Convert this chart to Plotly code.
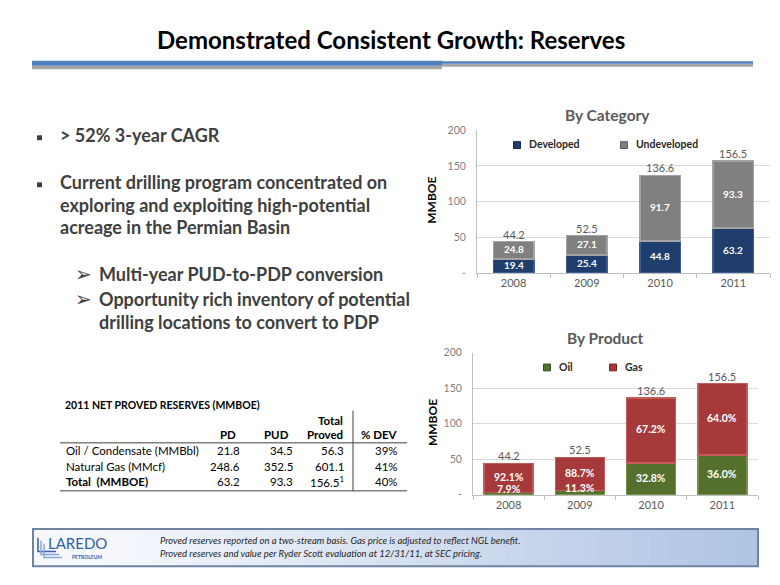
import plotly.graph_objects as go

W, H = 780, 585

# ---------------- data ----------------
years = ["2008", "2009", "2010", "2011"]
developed = [19.4, 25.4, 44.8, 63.2]
undeveloped = [24.8, 27.1, 91.7, 93.3]
category_totals = [44.2, 52.5, 136.6, 156.5]

oil_mmboe = [3.5, 5.9, 44.8, 56.3]
gas_mmboe = [40.7, 46.6, 91.8, 100.2]
oil_pct = ["7.9%", "11.3%", "32.8%", "36.0%"]
gas_pct = ["92.1%", "88.7%", "67.2%", "64.0%"]
product_totals = [44.2, 52.5, 136.6, 156.5]

y_tickvals = [0, 50, 100, 150, 200]
y_ticktext = ["-", "50", "100", "150", "200"]

table_title = "2011 NET PROVED RESERVES (MMBOE)"
table_rows = ["Oil / Condensate (MMBbl)", "Natural Gas (MMcf)", "<b>Total  (MMBOE)</b>"]
table_pd = ["21.8", "248.6", "63.2"]
table_pud = ["34.5", "352.5", "93.3"]
table_total = ["56.3", "601.1", "156.5<sup>1</sup>"]
table_dev = ["39%", "41%", "40%"]

bullets = ["> 52% 3-year CAGR",
           "Current drilling program concentrated on",
           "exploring and exploiting high-potential",
           "acreage in the Permian Basin"]
sub_bullets = ["Multi-year PUD-to-PDP conversion",
               "Opportunity rich inventory of potential",
               "drilling locations to convert to PDP"]
footnotes = ["Proved reserves reported on a two-stream basis. Gas price is adjusted to reflect NGL benefit.",
             "Proved reserves and value per Ryder Scott evaluation at 12/31/11, at SEC pricing."]

# ---------------- style ----------------
FONT = "Lato"
C_DEV, C_DEV_LINE = "#1f3e6d", "#3a5d93"
C_UND, C_UND_LINE = "#808080", "#a3a3a3"
C_OIL, C_OIL_LINE = "#55702c", "#74904a"
C_GAS, C_GAS_LINE = "#a63a3a", "#c65a5a"
TXT = "#404040"


def px(x):
    return x / W


def py(y):
    return 1 - y / H


fig = go.Figure()

fig.add_bar(x=years, y=developed, name="Developed", width=0.55,
            marker=dict(color=C_DEV, line=dict(color=C_DEV_LINE, width=1.5)),
            xaxis="x", yaxis="y", showlegend=False)
fig.add_bar(x=years, y=undeveloped, name="Undeveloped", width=0.55,
            marker=dict(color=C_UND, line=dict(color=C_UND_LINE, width=1.5)),
            xaxis="x", yaxis="y", showlegend=False)
fig.add_bar(x=years, y=oil_mmboe, name="Oil", width=0.69,
            marker=dict(color=C_OIL, line=dict(color=C_OIL_LINE, width=1.5)),
            xaxis="x2", yaxis="y2", showlegend=False)
fig.add_bar(x=years, y=gas_mmboe, name="Gas", width=0.69,
            marker=dict(color=C_GAS, line=dict(color=C_GAS_LINE, width=1.5)),
            xaxis="x2", yaxis="y2", showlegend=False)

ann = []
shapes = []

# data labels (x given as category index)
for i, yr in enumerate(years):
    ann.append(dict(x=i, y=developed[i] / 2, xref="x", yref="y", text=f"<b>{developed[i]:.1f}</b>",
                    showarrow=False, yshift=1, font=dict(size=10, color="white", family=FONT)))
    ann.append(dict(x=i, y=developed[i] + undeveloped[i] / 2, xref="x", yref="y",
                    text=f"<b>{undeveloped[i]:.1f}</b>",
                    showarrow=False, yshift=1, font=dict(size=10, color="white", family=FONT)))
    ann.append(dict(x=i, y=category_totals[i], xref="x", yref="y", text=f"{category_totals[i]:.1f}",
                    yanchor="bottom", showarrow=False, yshift=-1,
                    font=dict(size=11, color="#595959", family=FONT)))
    ann.append(dict(x=i, y=oil_mmboe[i] / 2, xref="x2", yref="y2", text=f"<b>{oil_pct[i]}</b>",
                    showarrow=False, yshift=5 if oil_mmboe[i] < 10 else 1,
                    font=dict(size=10.5, color="white", family=FONT)))
    ann.append(dict(x=i, y=oil_mmboe[i] + gas_mmboe[i] / 2, xref="x2", yref="y2",
                    text=f"<b>{gas_pct[i]}</b>",
                    showarrow=False, yshift=1, font=dict(size=10.5, color="white", family=FONT)))
    ann.append(dict(x=i, y=product_totals[i], xref="x2", yref="y2", text=f"{product_totals[i]:.1f}",
                    yanchor="bottom", showarrow=False, yshift=-1,
                    font=dict(size=11, color="#595959", family=FONT)))


def text(x, y, s, size, color=TXT, anchor="left", **kw):
    lift = max(0.0, 0.35 * size - 3)   # compensate box-centre vs cap-centre
    ann.append(dict(x=px(x), y=py(y - lift), xref="paper", yref="paper", text=s, showarrow=False,
                    xanchor=anchor, yanchor="middle", font=dict(size=size, color=color, family=FONT), **kw))


def rect(x0, y0, x1, y1, fill, line=None, lw=0):
    shapes.append(dict(type="rect", xref="paper", yref="paper", x0=px(x0), x1=px(x1), y0=py(y0), y1=py(y1),
                       fillcolor=fill, line=dict(color=line or fill, width=lw), layer="above"))


def hline(x0, x1, y, color="#404040", w=1):
    shapes.append(dict(type="line", xref="paper", yref="paper", x0=px(x0), x1=px(x1), y0=py(y), y1=py(y),
                       line=dict(color=color, width=w), layer="above"))


def vline(x, y0, y1, color="#404040", w=1):
    shapes.append(dict(type="line", xref="paper", yref="paper", x0=px(x), x1=px(x), y0=py(y0), y1=py(y1),
                       line=dict(color=color, width=w), layer="above"))


# title
text(391, 40, "<b>Demonstrated Consistent Growth: Reserves</b>", 24, color="#000000", anchor="center")
rect(32, 61, 442, 64.5, "#a6a6a6")
rect(32, 56, 442, 61, "#4f81bd")
rect(442, 59, 753, 62, "#a6a6a6")
rect(442, 56.5, 753, 59, "#4f81bd")

# chart titles / axis titles
text(607, 114, "<b>By Category</b>", 15.5, color="#595959", anchor="center")
text(605, 341, "<b>By Product</b>", 15.5, color="#595959", anchor="center")
text(432, 200, "<b>MMBOE</b>", 12, color="#000000", anchor="center", textangle=-90)
text(432, 427, "<b>MMBOE</b>", 12, color="#000000", anchor="center", textangle=-90)

# legends
for cx, cy, col, lc, lab in [(517, 142, C_DEV, "#132a4d", "Developed"),
                             (624, 142, C_UND, "#5e5e5e", "Undeveloped"),
                             (547, 369, C_OIL, "#3b501d", "Oil"),
                             (613, 369, C_GAS, "#7a2626", "Gas")]:
    rect(cx - 3.5, cy - 3.5, cx + 3.5, cy + 3.5, col, lc, 1)
    text(cx + 10, cy, f"<b>{lab}</b>", 10.5, color="#262626")

# bullets
bullet_y = [135, 183, 206, 229]
for i, (s, yy) in enumerate(zip(bullets, bullet_y)):
    if i in (0, 1):
        rect(37, yy - 3, 42, yy + 2, "#404040")
    text(58, yy, f"<b>{s}</b>", 18)
sub_y = [277, 302, 326]
for i, (s, yy) in enumerate(zip(sub_bullets, sub_y)):
    if i in (0, 1):
        text(73, yy, "➢", 20, color="#404040")
    text(97, yy, f"<b>{s}</b>", 18)

# table
text(63, 408, f"<b>{table_title}</b>", 10.5, color="#000000")
text(345, 424, "<b>Total</b>", 11.5, color="#000000", anchor="right")
for lab, xc, anc in [("PD", 228, "center"), ("PUD", 276, "center"), ("Proved", 345, "right"),
                     ("% DEV", 400, "right")]:
    text(xc, 439, f"<b>{lab}</b>", 11.5, color="#000000", anchor=anc)
hline(60, 407, 446, "#404040", 1)
hline(60, 407, 495, "#404040", 1)
vline(353, 413, 495, "#404040", 1)
row_y = [455, 471, 486]
for i, yy in enumerate(row_y):
    text(64, yy, table_rows[i], 11.5, color="#000000")
    text(242, yy, table_pd[i], 11.5, color="#000000", anchor="right")
    text(295, yy, table_pud[i], 11.5, color="#000000", anchor="right")
    text(346, yy, table_total[i], 11.5, color="#000000", anchor="right")
    text(400, yy, table_dev[i], 11.5, color="#000000", anchor="right")

# footer box with gradient
x0f, x1f = 33, 758
n = 40
c0 = (246, 248, 252)
c1 = (176, 196, 228)
for k in range(n):
    t = k / (n - 1)
    t2 = max(0.0, (t - 0.1) / 0.9)
    col = tuple(int(c0[j] + (c1[j] - c0[j]) * t2) for j in range(3))
    xa = x0f + (x1f - x0f) * k / n
    xb = x0f + (x1f - x0f) * (k + 1) / n + 0.5
    rect(xa, 534, xb, 572, "rgb(%d,%d,%d)" % col)
shapes.append(dict(type="rect", xref="paper", yref="paper", x0=px(x0f), x1=px(x1f), y0=py(534), y1=py(572),
                   fillcolor="rgba(0,0,0,0)", line=dict(color="#6f83a3", width=2), layer="above"))
text(158, 546, f"<i>{footnotes[0]}</i>", 9.5, color="#262626")
text(158, 559, f"<i>{footnotes[1]}</i>", 9.5, color="#262626")

# logo
for off in (0, 3, 6):
    shapes.append(dict(type="path", xref="paper", yref="paper",
                       path=f"M {px(38 + off)},{py(543 + off)} L {px(38 + off)},{py(557 + off)} L {px(56 + off)},{py(557 + off)}",
                       line=dict(color="#8aa6d6" if off else "#2f5faa", width=1.5)))
text(46, 551, "LAREDO", 15, color="#2f5faa")
text(104, 563, "<b>PETROLEUM</b>", 5, color="#2f5faa", anchor="right")

axis_common = dict(type="category", range=[-0.5, 3.5], showline=True, linecolor="#bfbfbf",
                   ticks="outside", tickson="boundaries", ticklen=4, tickcolor="#bfbfbf",
                   tickfont=dict(size=11, color="#595959", family=FONT), showgrid=False, fixedrange=True)
yaxis_common = dict(range=[0, 200], tickvals=y_tickvals, ticktext=y_ticktext, showgrid=True,
                    gridcolor="#d9d9d9", showline=True, linecolor="#bfbfbf", zeroline=False,
                    tickfont=dict(size=10.5, color="#7f7f7f", family=FONT), ticks="",
                    ticklabelstandoff=8, fixedrange=True)

fig.update_layout(
    width=W, height=H, margin=dict(l=0, r=0, t=0, b=0),
    paper_bgcolor="white", plot_bgcolor="white",
    barmode="stack", bargap=0.45,
    font=dict(family=FONT),
    xaxis=dict(domain=[px(477), px(770)], anchor="y", **axis_common),
    yaxis=dict(domain=[py(272.7), py(126.7)], anchor="x", **yaxis_common),
    xaxis2=dict(domain=[px(473), px(758)], anchor="y2", **axis_common),
    yaxis2=dict(domain=[py(499), py(354)], anchor="x2", **yaxis_common),
    annotations=ann, shapes=shapes, showlegend=False,
)

fig.write_html("out.html", config={"displayModeBar": False},
               post_script="document.body.style.margin='0';document.body.style.overflow='hidden';")
